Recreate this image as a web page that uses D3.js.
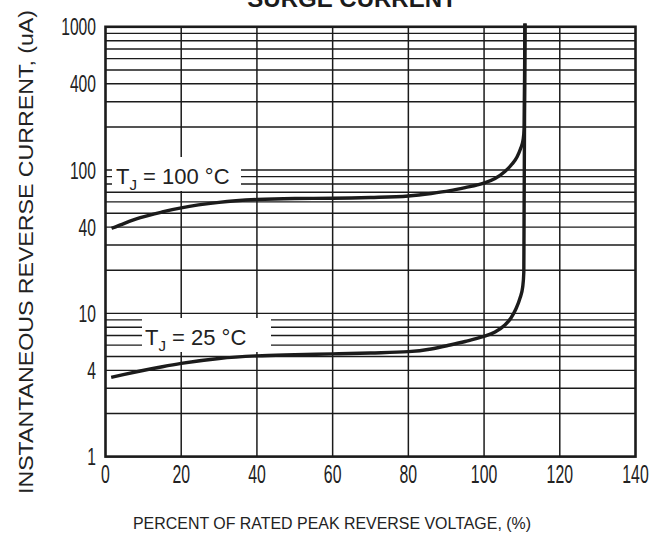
<!DOCTYPE html>
<html><head><meta charset="utf-8">
<script src="https://cdn.jsdelivr.net/npm/d3@7"></script>
<style>body{margin:0;background:#fff}svg{display:block}</style>
</head><body>
<svg id="c" width="662" height="540"></svg>
<script>
// ---- data ----
const xTicks = [0, 20, 40, 60, 80, 100, 120, 140];
const yTickLabels = [1, 4, 10, 40, 100, 400, 1000];
const yGridValues = [1,2,3,4,5,6,7,8,9,10,20,30,40,50,60,70,80,90,100,200,300,400,500,600,700,800,900,1000];
const pct100 = [1.6, 5, 9.2, 15, 20, 30, 40, 50, 60, 70, 80, 86, 91, 95, 99.7, 102.9, 105.5, 107.4, 108.7, 109.6, 110.3, 110.6, 110.8];
const cur100 = [39.2, 42.5, 46.5, 51.0, 54.5, 59.5, 62.3, 63.3, 63.5, 64.3, 65.9, 68.6, 71.8, 75.5, 80.8, 87.3, 97.7, 110.2, 123.4, 140.3, 162.1, 196.7, 1055];
const pct25 = [1.5, 5, 9.2, 15, 20, 30, 40, 50, 60, 70, 80, 86, 91, 95, 99.7, 102.9, 105.5, 107.1, 108.4, 109.5, 110.2, 110.5, 110.8];
const cur25 = [3.57, 3.75, 3.96, 4.24, 4.47, 4.84, 5.05, 5.14, 5.21, 5.29, 5.40, 5.64, 6.01, 6.36, 6.87, 7.41, 8.29, 9.28, 10.72, 12.79, 15.27, 19.44, 1055];
const seriesLabels = ["100 °C", "25 °C"];
const titleText = "SURGE CURRENT";
const xTitle = "PERCENT OF RATED PEAK REVERSE VOLTAGE, (%)";
const yTitle = "INSTANTANEOUS REVERSE CURRENT, (uA)";

// ---- layout ----
const L = 105.5, R = 635.5, T = 26.8, B = 456.6;
const ink = "#1b1b1b";
const font = "'Liberation Sans', Arial, sans-serif";
const svg = d3.select("#c");
const x = d3.scaleLinear().domain([0, 140]).range([L, R]);
const y = d3.scaleLog().domain([1, 1000]).range([B, T]);

// title (cut at top, as in the reference)
svg.append("text").attr("x", 352).attr("y", 7)
  .attr("text-anchor", "middle").attr("font-family", font)
  .attr("font-weight", "bold").attr("font-size", 24).attr("fill", ink)
  .text(titleText);

// grid
const g = svg.append("g");
g.selectAll("line.h").data(yGridValues).join("line")
  .attr("x1", L).attr("x2", R)
  .attr("y1", d => y(d)).attr("y2", d => y(d))
  .attr("stroke", ink).attr("stroke-width", 1.4);
g.selectAll("line.v").data(xTicks.slice(1, -1)).join("line")
  .attr("x1", d => x(d)).attr("x2", d => x(d))
  .attr("y1", T).attr("y2", B)
  .attr("stroke", ink).attr("stroke-width", 1.5);

// label boxes
function label(bx, by, bw, bh, tx, ty, rest) {
  svg.append("rect").attr("x", bx).attr("y", by).attr("width", bw).attr("height", bh).attr("fill", "#fff");
  const t = svg.append("text").attr("x", tx).attr("y", ty)
    .attr("font-family", font).attr("font-size", 22).attr("fill", "#222");
  t.append("tspan").text("T");
  t.append("tspan").attr("font-size", 15).attr("dy", 6).text("J");
  t.append("tspan").attr("dy", -6).text(" = " + rest);
}
label(112, 157, 129, 34, 116, 183.5, seriesLabels[0]);
label(142, 318, 129, 34, 145, 345, seriesLabels[1]);

// curves
const line = d3.line().x(d => x(d[0])).y(d => y(d[1])).curve(d3.curveMonotoneX);
[[pct100, cur100], [pct25, cur25]].forEach(([xs, ys]) => {
  svg.append("path").attr("d", line(xs.map((v, i) => [v, ys[i]])))
    .attr("fill", "none").attr("stroke", ink).attr("stroke-width", 3.4);
});

// border
svg.append("rect").attr("x", L).attr("y", T).attr("width", R - L).attr("height", B - T)
  .attr("fill", "none").attr("stroke", ink).attr("stroke-width", 2.6);

// y tick labels
svg.selectAll("text.yl").data(yTickLabels).join("text")
  .attr("x", 96).attr("y", d => y(d)).attr("dy", "0.36em")
  .attr("text-anchor", "end").attr("font-family", font).attr("font-size", 24)
  .attr("fill", "#222")
  .attr("textLength", d => String(d).length * 8.7).attr("lengthAdjust", "spacingAndGlyphs")
  .text(d => d);

// x tick labels
svg.selectAll("text.xl").data(xTicks).join("text")
  .attr("x", d => x(d)).attr("y", 483)
  .attr("text-anchor", "middle").attr("font-family", font).attr("font-size", 25)
  .attr("fill", "#222")
  .attr("textLength", d => String(d).length * 8.8).attr("lengthAdjust", "spacingAndGlyphs")
  .text(d => d);

// axis titles
svg.append("text").attr("x", 332).attr("y", 529)
  .attr("text-anchor", "middle").attr("font-family", font).attr("font-size", 16)
  .attr("fill", "#222").attr("textLength", 398).attr("lengthAdjust", "spacingAndGlyphs")
  .text(xTitle);
svg.append("text").attr("transform", "translate(33,252) rotate(-90)")
  .attr("text-anchor", "middle").attr("font-family", font).attr("font-size", 21)
  .attr("fill", "#222").attr("textLength", 484).attr("lengthAdjust", "spacingAndGlyphs")
  .text(yTitle);
</script>
</body></html>
